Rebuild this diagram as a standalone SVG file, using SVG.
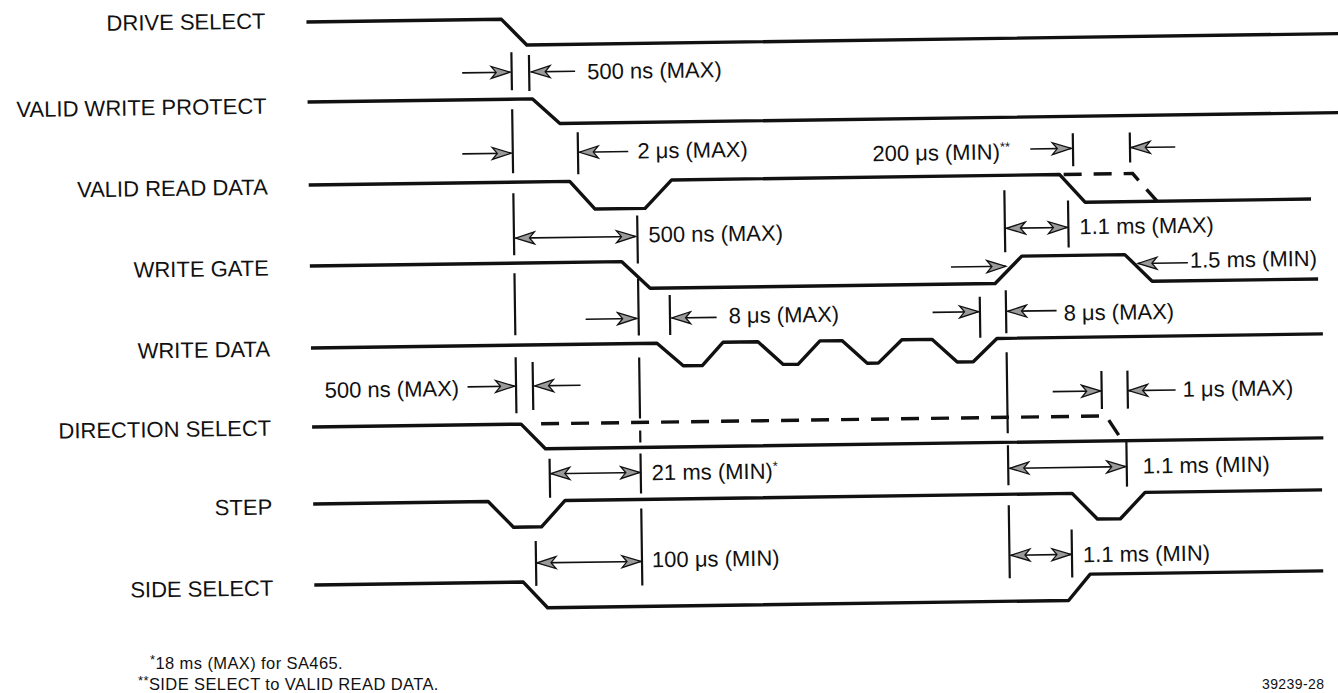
<svg xmlns="http://www.w3.org/2000/svg" width="1338" height="693" viewBox="0 0 1338 693">
<defs>
<style>
.trace{fill:none;stroke:#111;stroke-width:3.4;stroke-linejoin:round;stroke-linecap:butt}
.dash{fill:none;stroke:#111;stroke-width:3.4;stroke-dasharray:18 12}
.ext{fill:none;stroke:#111;stroke-width:2.2}
.dim{fill:none;stroke:#111;stroke-width:1.6;marker-end:url(#ah)}
.dbl{fill:none;stroke:#111;stroke-width:1.6;marker-start:url(#ah);marker-end:url(#ah)}
.lbl{font-family:"Liberation Sans",Arial,sans-serif;font-size:22px;fill:#111}
.sig{text-anchor:end}
.foot{font-family:"Liberation Sans",Arial,sans-serif;font-size:16.5px;letter-spacing:0.4px;fill:#111}
.sup{font-size:13px}
</style>
<marker id="ah" viewBox="-21 -8 23 16" refX="0" refY="0" markerWidth="23" markerHeight="16" markerUnits="userSpaceOnUse" orient="auto-start-reverse">
<path d="M0,0 L-19,-6 L-14,0 L-19,6 Z" fill="#9a9a9a" stroke="#111" stroke-width="1.3"/>
</marker>
</defs>
<rect width="1338" height="693" fill="#fff"/>
<g id="diagram" transform="rotate(-0.8 670 346)">
<g id="drive-select">
<text class="lbl sig" x="270" y="23">DRIVE SELECT</text>
<path class="trace" d="M311,17 H506 L531,43 H1350"/>
</g>
<g id="valid-write-protect">
<text class="lbl sig" x="270" y="108">VALID WRITE PROTECT</text>
<path class="trace" d="M311,97 H536 L563,122 H1350"/>
</g>
<g id="valid-read-data">
<text class="lbl sig" x="270" y="189">VALID READ DATA</text>
<path class="trace" d="M311,180 H572 L597,208 H647 L674,180 H1062 L1087,208 H1313"/>
<path class="dash" d="M1066,180 H1135 L1159,208"/>
</g>
<g id="write-gate">
<text class="lbl sig" x="270" y="270">WRITE GATE</text>
<path class="trace" d="M311,261 H623 L651,288 H996 L1023,261 H1126 L1153,288 H1319"/>
</g>
<g id="write-data">
<text class="lbl sig" x="270" y="351">WRITE DATA</text>
<path class="trace" d="M311,343 H657 L683,366 H702 L723,343 H758 L783,366 H798 L820,343 H842 L867,366 H878 L902,343 H932 L957,366 H973 L997,343 H1323"/>
</g>
<g id="direction-select">
<text class="lbl sig" x="270" y="430">DIRECTION SELECT</text>
<path class="trace" d="M311,422 H520 L544,447 H1322"/>
<path class="dash" d="M540,422 H1105 L1121,447"/>
</g>
<g id="step">
<text class="lbl sig" x="270" y="509">STEP</text>
<path class="trace" d="M311,499 H486 L511,525 H539 L563,499 H1070 L1095,525 H1118 L1143,499 H1320"/>
</g>
<g id="side-select">
<text class="lbl sig" x="270" y="590">SIDE SELECT</text>
<path class="trace" d="M311,580 H520 L544,606 H1065 L1087,580 H1320"/>
</g>
<g id="connectors">
<path class="ext" d="M515.5,50V88M515.5,107V171M515.5,191V253M515.5,271V333M515.5,355V411"/>
<path class="ext" d="M639,215V263M639,278V335M639,357V418M639,430V442M639,453V493M639,508V585"/>
<path class="ext" d="M1006.5,195V257M1006.5,295V338M1006.5,357V438M1006.5,450V490M1006.5,510V583"/>
<path class="ext" d="M533,53V89 M580.7,131V173 M670.4,295V335 M980.4,301V342 M1075.7,139V172 M1132.7,139V169 M1070,206V253 M532.4,360V408 M1101,377V415 M1127,377V415 M548,457V496 M1125,446V493 M533,539V584 M1069,535V583"/>
<line class="dim" x1="466" y1="70" x2="514" y2="70"/>
<line class="dim" x1="579" y1="70" x2="535" y2="70"/>
<line class="dim" x1="465" y1="151" x2="514" y2="151"/>
<line class="dim" x1="631" y1="151" x2="582" y2="151"/>
<line class="dbl" x1="517" y1="236" x2="637" y2="236"/>
<line class="dim" x1="586" y1="318" x2="637" y2="318"/>
<line class="dim" x1="717" y1="318" x2="672" y2="318"/>
<line class="dim" x1="933" y1="316" x2="979" y2="316"/>
<line class="dim" x1="1057" y1="316" x2="1008" y2="316"/>
<line class="dim" x1="952" y1="271" x2="1007" y2="271"/>
<line class="dim" x1="1189" y1="270" x2="1139" y2="270"/>
<line class="dbl" x1="1008" y1="233" x2="1069" y2="233"/>
<line class="dim" x1="1033" y1="154" x2="1074" y2="154"/>
<line class="dim" x1="1178" y1="154" x2="1134" y2="154"/>
<line class="dim" x1="467" y1="384" x2="514" y2="384"/>
<line class="dim" x1="580" y1="384" x2="534" y2="384"/>
<line class="dim" x1="1052" y1="397" x2="1100" y2="397"/>
<line class="dim" x1="1175" y1="397" x2="1128" y2="397"/>
<line class="dbl" x1="549" y1="472" x2="638" y2="472"/>
<line class="dbl" x1="1008" y1="473" x2="1124" y2="473"/>
<line class="dbl" x1="534" y1="561" x2="638" y2="561"/>
<line class="dbl" x1="1008" y1="560" x2="1068" y2="560"/>
</g>
<g id="timing-labels" class="lbl">
<text x="591" y="78">500 ns (MAX)</text>
<text x="640" y="158">2 μs (MAX)</text>
<text x="875" y="164">200 μs (MIN)<tspan class="sup" dy="-8">**</tspan></text>
<text x="650" y="242">500 ns (MAX)</text>
<text x="1081" y="240">1.1 ms (MAX)</text>
<text x="1191" y="275">1.5 ms (MIN)</text>
<text x="729" y="324">8 μs (MAX)</text>
<text x="1064" y="326">8 μs (MAX)</text>
<text x="324" y="393">500 ns (MAX)</text>
<text x="1182" y="404">1 μs (MAX)</text>
<text x="650" y="480">21 ms (MIN)<tspan class="sup" dy="-8">*</tspan></text>
<text x="1141" y="480">1.1 ms (MIN)</text>
<text x="649" y="567">100 μs (MIN)</text>
<text x="1080" y="568">1.1 ms (MIN)</text>
</g>
</g>
<g id="footnotes" class="foot">
<text x="150" y="669"><tspan class="sup" dy="-5">*</tspan><tspan dy="5">18 ms (MAX) for SA465.</tspan></text>
<text x="138" y="690"><tspan class="sup" dy="-5">**</tspan><tspan dy="5">SIDE SELECT to VALID READ DATA.</tspan></text>
<text x="1262" y="689" style="font-size:14px">39239-28</text>
</g>
</svg>
